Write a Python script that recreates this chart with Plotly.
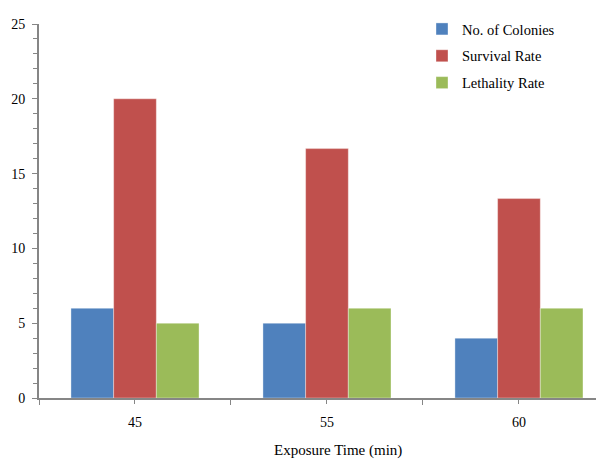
import plotly.graph_objects as go

categories = ["45", "55", "60"]
colonies = [6, 5, 4]
survival = [20, 16.67, 13.33]
lethality = [5, 6, 6]

series = [
    ("No. of Colonies", colonies, "#4F81BD"),
    ("Survival Rate", survival, "#C0504D"),
    ("Lethality Rate", lethality, "#9BBB59"),
]

FONT = "Liberation Serif"
AX = "#868686"

# page body has an 8px margin; figure coordinates are page coords minus 8
W, H = 596, 451
L, T, B = 31, 16, 61
PW, PH = W - L, H - T - B

fig = go.Figure()
xs = list(range(len(categories)))
for name, vals, col in series:
    fig.add_trace(go.Bar(
        x=xs, y=vals, name=name, legendgroup=name,
        marker=dict(color=col, line=dict(color="rgba(255,255,255,0.6)", width=0.6)),
    ))

fig.update_layout(
    width=W, height=H,
    margin=dict(l=L, r=0, t=T, b=B, pad=0, autoexpand=False),
    plot_bgcolor="white", paper_bgcolor="white",
    barmode="group", bargap=0.333, bargroupgap=0,
    font=dict(family=FONT, size=14, color="#000000"),
    showlegend=True,
    legend=dict(x=(414 - L) / PW, y=(H - B - 5) / PH, xanchor="left", yanchor="top",
                font=dict(family=FONT, size=14.5), tracegroupgap=5,
                bgcolor="rgba(0,0,0,0)", itemwidth=30),
    xaxis=dict(
        range=[-0.5, 2.443], tickvals=xs, ticktext=categories,
        showline=True, linecolor=AX, linewidth=2,
        ticks="outside", ticklen=4, tickcolor=AX, tickwidth=1,
        ticklabelstandoff=6, automargin=False,
        minor=dict(tick0=0.5, dtick=1, ticks="outside", ticklen=5, tickcolor=AX, tickwidth=1),
        showgrid=False, zeroline=False, fixedrange=True,
    ),
    yaxis=dict(
        range=[0, 25], tick0=0, dtick=5,
        showline=True, linecolor=AX, linewidth=2,
        ticks="outside", ticklen=5, tickcolor=AX, tickwidth=1,
        minor=dict(dtick=1, ticks="outside", ticklen=4, tickcolor=AX, tickwidth=1),
        showgrid=False, zeroline=False, ticklabelstandoff=4, automargin=False,
    ),
)

fig.add_annotation(text="Exposure Time (min)", xref="paper", yref="paper",
                   x=(330 - L) / PW, y=-52 / PH, xanchor="center", yanchor="middle",
                   showarrow=False, font=dict(family=FONT, size=15))

fig.write_html("out.html")
